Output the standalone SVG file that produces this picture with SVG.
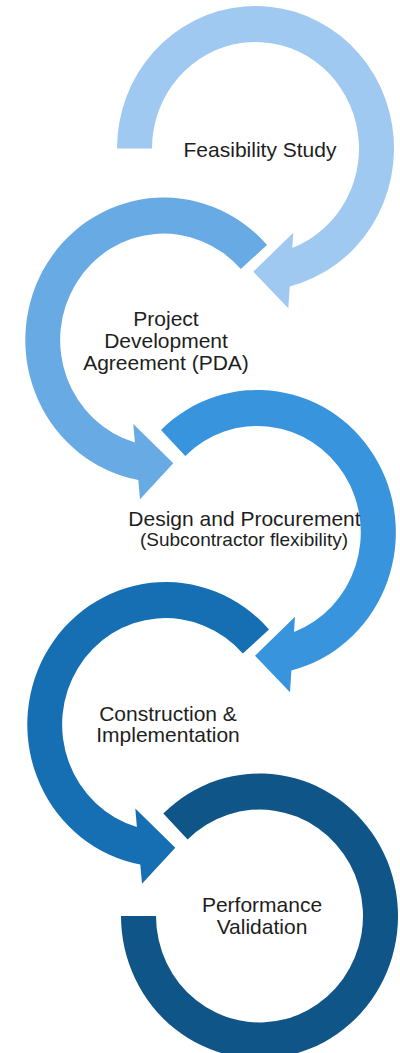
<svg xmlns="http://www.w3.org/2000/svg" width="400" height="1053" viewBox="0 0 400 1053">
  <style>
    .lbl { font-family: "Liberation Sans", Arial, sans-serif; font-size: 21px; fill: #1e1e1e; text-anchor: middle; }
    .sub { font-size: 19px; }
    .s1 { fill: #9fc9f1; }
    .s2 { fill: #68aae4; }
    .s3 { fill: #3894dc; }
    .s4 { fill: #166fb3; }
    .s5 { fill: #0f5587; }
  </style>
  <rect width="400" height="1053" fill="#ffffff"/>

  <!-- Stage 1: arc opens at the left, runs clockwise, arrow points into stage 2 -->
  <g id="stage-feasibility">
    <path class="s1" d="M117,148.5 A138.5,142.5 0 1 1 289.7,286.5 L288.3,308.3 L253.3,271.7 L293.3,232.7 L292.3,248 A103.5,106.5 0 1 0 152,148.5 Z"/>
    <text class="lbl" x="260" y="157">Feasibility Study</text>
  </g>

  <!-- Stage 2: arc opens at upper right, runs counter-clockwise -->
  <g id="stage-pda">
    <path class="s2" d="M267,245 A138.5,142.5 0 1 0 138.3,480.1 L140,499.3 L173.3,463.3 L133.3,424 L134.9,442.4 A103.5,106.5 0 1 1 240.8,269.1 Z"/>
    <text class="lbl" x="166" y="326">Project</text>
    <text class="lbl" x="166" y="348">Development</text>
    <text class="lbl" x="166" y="370">Agreement (PDA)</text>
  </g>

  <!-- Stage 3 -->
  <g id="stage-design">
    <path class="s3" d="M161,430 A138.5,142.5 0 1 1 291.4,670.5 L290,692.3 L255,655.7 L295,616.7 L294,632 A103.5,106.5 0 1 0 185.3,455.9 Z"/>
    <text class="lbl" x="244.5" y="526">Design and Procurement</text>
    <text class="lbl sub" x="244" y="546">(Subcontractor flexibility)</text>
  </g>

  <!-- Stage 4 -->
  <g id="stage-construction">
    <path class="s4" d="M269,629.5 A138.5,142.5 0 1 0 140.3,864.6 L142,883.8 L175.3,847.8 L135.3,808.5 L136.9,826.9 A103.5,106.5 0 1 1 242.8,653.6 Z"/>
    <text class="lbl" x="168" y="721">Construction &amp;</text>
    <text class="lbl" x="168" y="742">Implementation</text>
  </g>

  <!-- Stage 5: closing ring, no arrowhead -->
  <g id="stage-validation">
    <path class="s5" d="M163.3,813.5 A138.5,142.5 0 1 1 121,916 L156,916 A103.5,106.5 0 1 0 187.6,839.4 Z"/>
    <text class="lbl" x="262" y="912">Performance</text>
    <text class="lbl" x="262" y="934">Validation</text>
  </g>
</svg>
